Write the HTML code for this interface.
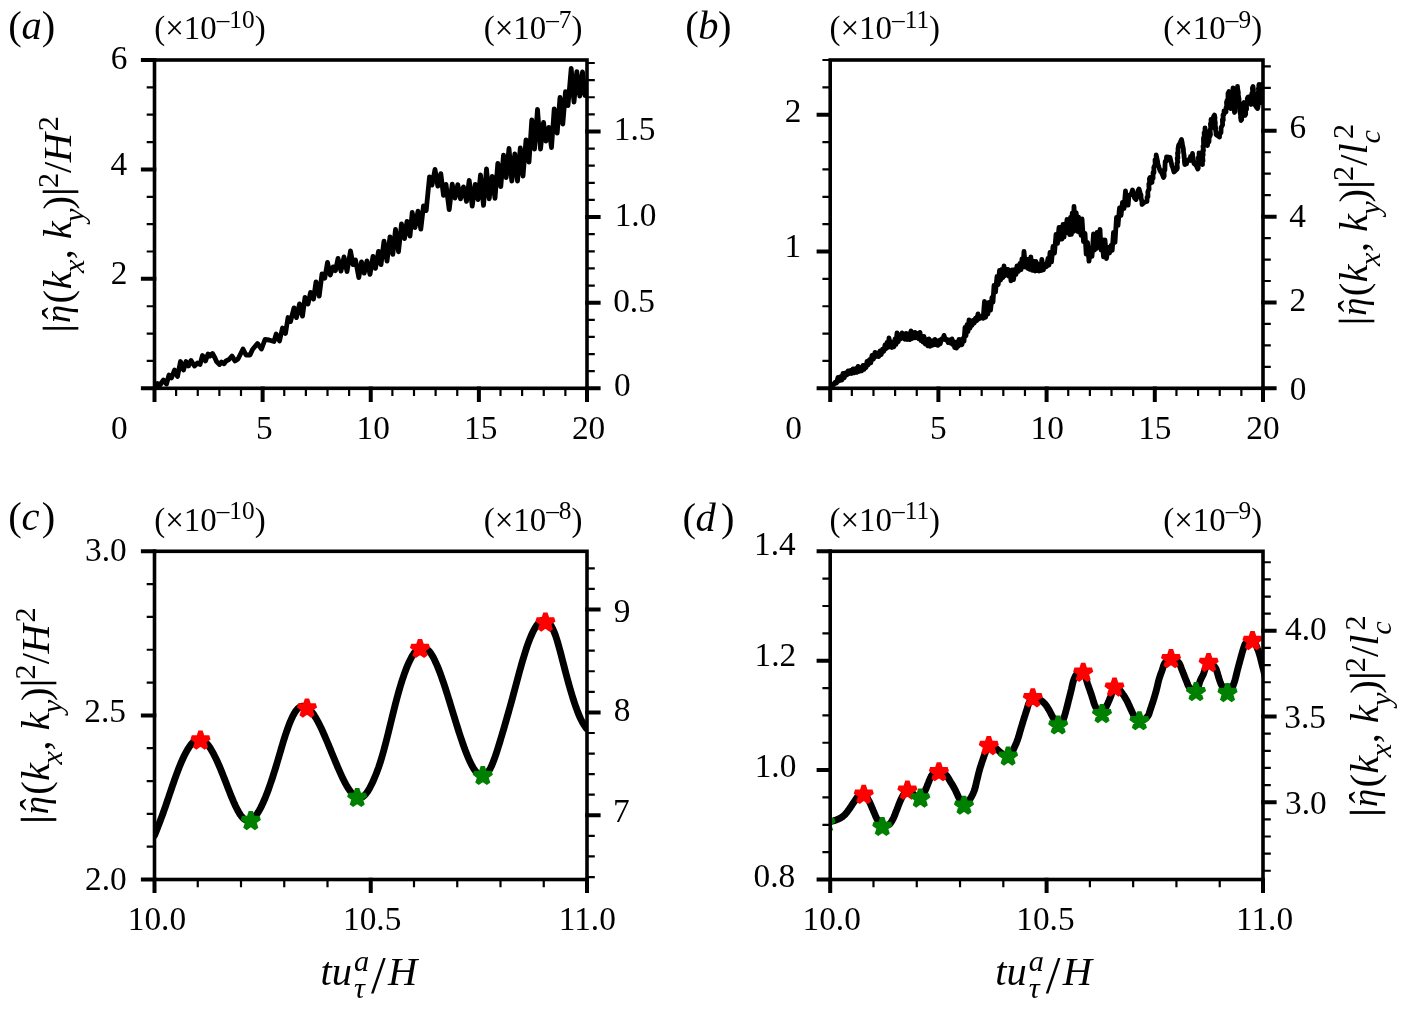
<!DOCTYPE html>
<html lang="en">
<head>
<meta charset="utf-8">
<title>Figure</title>
<style>
html,body{margin:0;padding:0;background:#fff;}
body{width:1402px;height:1009px;overflow:hidden;}
svg{display:block;}
text{font-family:"Liberation Serif", "DejaVu Serif", serif;fill:#000;}
.t{font-size:34.2px;}
.i{font-style:italic;}
</style>
</head>
<body>
<svg width="1402" height="1009" viewBox="0 0 1402 1009">
<rect width="1402" height="1009" fill="#fff"/>
<defs>
<clipPath id="cla"><rect x="154.50" y="60.00" width="432.50" height="328.30"/></clipPath>
<clipPath id="clb"><rect x="830.20" y="60.00" width="432.80" height="328.30"/></clipPath>
<clipPath id="clc"><rect x="154.50" y="551.30" width="432.50" height="328.20"/></clipPath>
<clipPath id="cld"><rect x="830.20" y="551.30" width="432.80" height="328.20"/></clipPath>
</defs>
<path d="M154.5 387.0L157.5 383.5L160.0 385.0L163.5 380.0L166.5 384.0L169.0 375.0L171.5 378.0L174.5 370.0L177.5 376.5L180.5 361.5L183.5 370.0L186.0 361.5L188.5 366.0L191.0 360.5L194.5 366.0L197.5 363.0L200.0 364.5L202.5 355.5L205.5 361.0L208.0 354.0L210.0 356.0L212.5 353.5L215.0 358.0L216.5 361.5L219.5 364.5L221.5 362.0L224.0 363.8L226.0 361.0L229.0 359.5L232.0 356.0L235.0 361.0L238.0 359.0L240.0 355.0L243.0 349.0L246.0 355.0L250.0 355.0L252.5 349.5L257.5 343.5L261.5 349.0L265.0 339.5L269.0 340.0L274.0 341.5L276.2 334.0L279.5 341.0L282.5 328.0L285.5 333.5L288.0 317.5L290.5 321.6L294.0 307.9L296.5 317.6L299.5 303.9L302.5 316.1L305.0 297.4L308.0 304.1L310.5 292.4L313.5 299.1L316.0 281.9L319.2 296.1L322.0 273.9L324.8 278.1L327.5 262.4L330.3 275.1L333.0 266.9L335.5 270.6L338.0 258.4L341.0 271.1L344.0 256.9L347.0 271.6L350.5 250.9L353.0 264.6L355.5 259.9L358.8 277.6L361.5 261.9L364.2 273.1L367.0 260.9L370.0 274.4L373.0 256.4L375.5 268.4L378.5 251.4L381.0 264.6L384.0 241.1L387.0 261.1L390.0 236.9L392.8 254.4L395.5 229.4L398.5 251.8L401.5 223.9L404.5 238.6L407.0 221.4L410.0 236.1L412.2 212.4L415.0 227.6L418.0 211.2L420.8 229.1L423.5 205.9L426.2 210.6L429.5 176.9L432.0 185.1L435.0 169.4L437.8 186.1L440.8 173.6L443.5 195.4L446.0 184.4L449.2 209.6L452.2 184.2L455.0 198.1L457.8 184.6L460.5 198.8L463.5 186.9L466.5 201.4L469.2 180.4L472.2 206.1L475.2 184.4L478.0 199.6L480.5 174.9L483.5 205.4L486.5 168.9L489.2 198.8L492.2 176.4L495.0 198.4L497.8 163.4L500.8 186.6L503.5 155.1L506.2 177.6L509.0 148.4L511.8 181.1L514.8 153.9L517.5 181.1L520.3 147.9L523.0 176.1L526.0 139.9L529.0 162.1L531.8 119.9L534.5 149.1L537.5 109.4L540.5 149.1L543.5 122.4L546.0 141.1L548.8 127.4L551.5 147.6L554.2 108.9L557.2 133.1L560.0 97.4L562.8 124.1L565.5 91.6L568.0 105.6L571.2 68.4L574.0 102.1L576.8 71.6L579.8 96.1L582.5 71.9L585.0 95.6L587.0 85.0" fill="none" stroke="#000" stroke-width="4.8" stroke-linejoin="round" stroke-linecap="round" clip-path="url(#cla)"/>
<path d="M830.2 387.5L830.0 385.2L831.2 385.0L832.5 384.1L833.8 384.6L835.0 382.4L836.5 383.1L838.0 377.4L839.2 380.9L840.5 376.6L841.8 380.1L843.0 373.4L844.2 377.9L845.5 372.9L846.8 375.0L848.0 370.9L849.2 373.6L850.5 370.5L851.8 373.4L853.0 368.9L854.2 372.9L855.5 368.6L856.8 372.4L858.0 366.4L859.2 371.4L860.5 367.8L861.8 370.7L863.0 365.4L864.0 369.4L865.0 365.2L866.0 367.6L867.0 361.4L868.2 364.9L869.5 359.6L870.8 362.8L872.0 355.4L873.5 359.0L875.0 352.4L876.2 356.5L877.5 353.2L878.8 356.5L880.0 350.9L881.2 354.6L882.5 349.3L883.8 351.2L885.0 344.9L886.0 348.6L887.0 342.4L888.0 347.3L889.0 337.9L890.0 346.9L891.0 341.6L892.0 347.5L893.0 341.9L894.0 346.8L895.0 339.0L896.0 344.5L897.0 332.9L898.2 341.9L899.5 334.8L900.8 338.7L902.0 332.9L903.0 338.1L904.0 334.7L905.0 339.2L906.0 333.4L907.2 339.5L908.5 333.9L909.8 339.6L911.0 330.9L912.0 338.6L913.0 332.7L914.0 337.9L915.0 332.4L916.2 337.7L917.5 333.5L918.8 338.8L920.0 332.4L921.0 340.6L922.0 336.1L923.0 342.2L924.0 336.4L925.2 344.0L926.5 339.6L927.8 345.7L929.0 338.9L930.0 346.3L931.0 340.8L932.0 345.4L933.0 340.7L934.0 344.7L935.0 339.4L936.0 344.5L937.0 341.2L938.0 345.4L939.0 340.4L940.2 343.9L941.5 339.0L942.8 339.5L944.0 335.4L945.5 339.8L947.0 339.4L948.2 342.6L949.5 340.0L950.8 343.2L952.0 338.9L952.9 344.7L953.8 341.5L954.6 347.5L955.5 342.4L956.4 348.1L957.2 341.9L958.1 346.4L959.0 339.4L960.0 344.9L961.0 340.0L962.0 344.7L963.0 338.4L964.0 341.3L965.0 327.4L966.0 335.9L967.0 324.6L968.0 331.6L969.0 319.9L970.0 328.1L971.0 322.1L972.0 325.4L973.0 320.4L974.2 323.0L975.5 318.2L976.8 320.7L978.0 313.9L979.0 319.0L980.0 316.3L981.0 317.9L982.0 316.4L983.2 318.2L984.5 301.4L985.6 317.4L986.8 303.1L987.9 314.1L989.0 302.4L990.5 310.2L992.0 297.4L993.0 302.2L994.0 285.4L995.5 291.9L997.0 276.4L998.2 284.6L999.5 270.4L1000.6 280.1L1001.8 269.5L1002.9 277.5L1004.0 265.9L1005.0 275.6L1006.0 269.4L1007.0 274.8L1008.0 269.4L1009.0 276.4L1010.0 271.4L1011.0 280.9L1012.0 269.9L1013.5 279.7L1015.0 269.4L1016.0 274.5L1017.0 265.9L1018.5 271.4L1020.0 263.4L1021.0 269.7L1022.0 258.8L1023.0 266.9L1024.0 251.4L1025.5 267.0L1027.0 259.4L1028.0 268.5L1028.9 259.1L1029.8 269.3L1030.8 256.9L1032.4 270.4L1034.0 261.4L1035.0 271.0L1036.0 261.4L1037.0 270.5L1038.0 263.9L1039.0 271.0L1040.0 264.4L1040.9 270.7L1041.8 259.4L1043.4 269.8L1045.0 264.4L1046.5 266.6L1048.0 258.4L1049.0 265.1L1050.0 252.4L1051.5 261.9L1053.0 246.4L1054.5 253.1L1056.0 234.4L1057.5 243.5L1059.0 227.4L1060.0 239.3L1061.0 227.2L1062.0 239.0L1063.0 224.4L1064.0 237.2L1065.0 223.8L1066.0 232.9L1067.0 219.4L1067.9 232.4L1068.8 219.9L1069.6 234.6L1070.5 217.4L1071.4 234.3L1072.2 213.2L1073.1 231.7L1074.0 206.4L1075.1 230.4L1076.2 212.7L1077.4 231.3L1078.5 216.9L1079.4 232.3L1080.2 219.4L1081.1 235.3L1082.0 218.9L1083.5 241.7L1085.0 233.4L1086.2 254.1L1087.5 242.4L1089.0 261.2L1090.5 248.4L1092.0 256.4L1093.5 233.9L1094.4 250.1L1095.2 234.9L1096.1 248.5L1097.0 232.4L1098.5 247.3L1100.0 229.4L1101.0 250.0L1102.0 239.4L1103.5 256.8L1105.0 239.9L1106.5 258.5L1108.0 247.4L1109.5 253.0L1111.0 245.4L1112.2 250.4L1113.5 232.4L1115.0 242.4L1116.5 217.4L1118.0 225.5L1119.5 207.9L1121.0 215.4L1122.5 202.4L1124.0 208.5L1125.5 190.9L1126.4 203.2L1127.2 195.0L1128.1 205.2L1129.0 195.4L1130.0 195.0L1131.5 193.4L1132.5 190.0L1132.9 191.5L1134.1 196.4L1134.5 198.0L1136.0 199.5L1137.5 195.0L1138.0 190.7L1139.0 189.0L1140.3 193.3L1141.0 195.0L1141.0 197.4L1142.0 202.0L1142.0 204.5L1145.0 202.0L1147.0 201.5L1147.1 197.1L1148.0 196.7L1147.8 192.0L1148.5 190.0L1149.1 189.2L1148.8 183.9L1149.7 184.0L1149.4 178.9L1150.0 177.5L1151.3 181.3L1152.0 182.5L1152.1 178.9L1153.1 178.3L1153.0 172.7L1154.0 172.7L1153.8 167.3L1154.5 166.0L1155.2 164.6L1155.0 159.8L1156.1 159.2L1156.2 155.0L1156.5 156.5L1157.6 161.5L1157.6 162.6L1158.5 166.0L1160.0 170.6L1161.0 172.0L1162.0 173.6L1163.5 177.5L1164.2 176.0L1164.0 170.2L1164.9 170.3L1165.0 166.0L1165.2 161.4L1166.3 161.1L1166.5 157.0L1170.0 157.5L1170.4 158.9L1171.6 164.3L1172.0 166.0L1172.7 167.4L1174.0 172.0L1177.0 169.0L1177.4 168.1L1177.0 163.2L1177.7 162.3L1177.2 158.1L1177.9 158.2L1177.5 152.9L1178.2 152.8L1178.0 149.0L1178.7 145.0L1180.0 143.0L1181.5 139.5L1182.3 143.3L1182.2 143.7L1183.3 148.4L1183.5 150.0L1183.4 151.2L1184.2 156.1L1183.9 155.7L1184.7 161.0L1184.3 160.5L1184.8 164.5L1186.5 163.8L1187.5 160.0L1190.0 160.5L1190.5 156.5L1192.0 157.2L1192.5 153.5L1192.6 155.2L1193.5 160.0L1193.3 159.3L1194.0 163.5L1196.0 165.0L1197.8 169.0L1198.3 167.9L1197.9 162.4L1198.7 162.4L1198.3 157.5L1199.1 157.2L1199.0 153.0L1199.4 154.1L1200.6 158.6L1201.0 160.0L1202.5 164.5L1202.3 161.3L1203.0 161.0L1202.5 155.3L1203.2 155.2L1202.8 150.5L1203.5 150.6L1203.0 146.2L1203.7 145.5L1203.5 142.0L1203.5 137.8L1204.4 138.0L1204.1 132.9L1205.0 132.1L1205.0 128.0L1205.1 129.8L1206.0 134.4L1205.8 134.5L1206.7 139.6L1206.5 138.8L1207.4 144.2L1207.5 145.5L1207.8 141.4L1209.0 141.7L1209.1 137.6L1210.0 136.0L1210.5 134.5L1210.0 129.8L1210.8 128.6L1210.4 123.9L1211.1 123.5L1211.0 119.5L1213.0 120.0L1213.5 116.7L1214.5 115.0L1215.0 118.1L1214.6 118.3L1215.4 123.3L1215.0 123.1L1215.7 128.8L1215.3 128.6L1216.1 133.2L1216.0 134.5L1219.5 137.0L1219.8 133.1L1221.0 132.8L1221.1 127.5L1222.0 126.0L1222.6 124.7L1222.4 119.7L1223.3 120.1L1223.0 114.8L1224.0 114.6L1224.0 111.0L1226.0 112.0L1226.0 107.7L1226.8 107.1L1226.5 102.4L1227.0 100.5L1228.0 99.2L1228.0 93.3L1229.0 91.5L1229.5 95.1L1229.1 95.7L1229.9 99.9L1229.6 100.0L1230.4 104.3L1230.0 104.8L1230.5 108.5L1231.1 107.2L1230.8 102.7L1231.7 102.1L1231.5 97.1L1232.4 97.0L1232.1 92.1L1233.0 91.9L1233.0 88.0L1232.9 89.0L1233.6 93.6L1233.2 94.6L1233.9 99.2L1233.5 98.6L1234.2 103.6L1233.8 104.0L1234.5 108.9L1234.0 109.1L1234.5 112.5L1235.1 110.9L1234.8 106.3L1235.7 105.7L1235.4 100.8L1236.3 100.5L1236.0 95.9L1236.9 95.8L1236.6 91.0L1237.5 90.3L1237.5 86.5L1237.5 87.8L1238.4 92.9L1238.1 93.7L1239.0 98.8L1239.0 100.0L1239.0 101.7L1239.8 106.0L1239.5 106.6L1240.3 111.6L1240.0 112.1L1240.8 116.4L1240.5 116.9L1241.0 120.5L1241.7 119.4L1241.6 114.3L1242.6 114.3L1242.4 109.4L1243.4 108.6L1243.3 103.7L1244.0 102.5L1244.5 106.7L1244.1 106.6L1244.9 111.2L1244.5 112.1L1245.0 115.5L1245.7 114.1L1245.6 109.4L1246.6 109.1L1246.4 103.4L1247.4 103.1L1247.3 98.7L1248.0 97.0L1250.0 96.5L1250.6 100.7L1250.4 100.5L1251.0 104.5L1251.6 103.4L1251.3 98.3L1252.2 97.6L1251.8 93.3L1252.7 93.1L1252.4 88.1L1253.0 86.5L1253.5 90.0L1253.1 90.4L1253.9 95.1L1253.6 95.4L1254.4 100.6L1254.0 100.7L1254.5 104.0L1256.0 106.5L1257.5 108.5L1258.0 106.8L1257.5 102.1L1258.2 102.9L1257.8 97.2L1258.5 97.6L1258.1 92.5L1258.8 93.3L1258.4 88.4L1259.1 88.3L1259.0 84.5L1258.8 85.6L1259.6 91.1L1259.1 91.2L1259.9 96.0L1259.4 96.7L1260.2 101.2L1260.0 103.0L1259.9 99.6L1260.7 99.0L1260.3 94.1L1261.2 93.9L1260.8 89.1L1261.6 88.7L1261.5 84.5L1262.0 85.9L1263.0 90.0L1263.7 94.0L1263.5 93.2L1264.5 98.8L1264.3 98.3L1265.0 102.0" fill="none" stroke="#000" stroke-width="4.8" stroke-linejoin="round" stroke-linecap="round" clip-path="url(#clb)"/>
<path d="M154.5 835.5L155.5 833.0L156.5 830.4L157.5 827.9L158.5 825.3L159.5 822.7L160.5 820.1L161.5 817.4L162.5 814.7L163.5 812.0L164.5 809.1L165.5 806.3L166.5 803.4L167.5 800.4L168.5 797.5L169.5 794.5L170.5 791.6L171.5 788.6L172.5 785.7L173.5 782.8L174.5 779.9L175.5 777.1L176.5 774.4L177.5 771.7L178.5 769.1L179.5 766.5L180.5 764.1L181.5 761.7L182.5 759.5L183.5 757.3L184.5 755.2L185.5 753.3L186.5 751.4L187.5 749.7L188.5 748.1L189.5 746.6L190.5 745.2L191.5 743.9L192.5 742.8L193.5 741.9L194.5 741.0L195.5 740.4L196.5 739.8L197.5 739.4L198.5 739.2L199.5 739.2L200.5 739.3L201.5 739.5L202.5 740.0L203.5 740.6L204.5 741.3L205.5 742.2L206.5 743.2L207.5 744.3L208.5 745.6L209.5 747.0L210.5 748.5L211.5 750.2L212.5 751.9L213.5 753.7L214.5 755.7L215.5 757.7L216.5 759.8L217.5 762.0L218.5 764.2L219.5 766.5L220.5 768.9L221.5 771.4L222.5 773.8L223.5 776.4L224.5 778.9L225.5 781.5L226.5 784.1L227.5 786.7L228.5 789.3L229.5 791.8L230.5 794.4L231.5 796.8L232.5 799.2L233.5 801.6L234.5 803.8L235.5 806.0L236.5 808.0L237.5 810.0L238.5 811.8L239.5 813.5L240.5 815.0L241.5 816.3L242.5 817.5L243.5 818.5L244.5 819.3L245.5 819.9L246.5 820.3L247.5 820.5L248.5 820.5L249.5 820.4L250.5 820.1L251.5 819.6L252.5 818.9L253.5 818.1L254.5 817.1L255.5 815.9L256.5 814.6L257.5 813.2L258.5 811.6L259.5 809.9L260.5 808.1L261.5 806.1L262.5 804.0L263.5 801.8L264.5 799.5L265.5 797.1L266.5 794.5L267.5 791.9L268.5 789.2L269.5 786.4L270.5 783.5L271.5 780.6L272.5 777.6L273.5 774.4L274.5 771.3L275.5 768.1L276.5 764.8L277.5 761.4L278.5 758.0L279.5 754.6L280.5 751.2L281.5 747.8L282.5 744.4L283.5 741.1L284.5 737.9L285.5 734.8L286.5 731.8L287.5 729.0L288.5 726.2L289.5 723.6L290.5 721.1L291.5 718.9L292.5 716.7L293.5 714.8L294.5 713.0L295.5 711.4L296.5 710.1L297.5 708.9L298.5 708.0L299.5 707.3L300.5 706.7L301.5 706.3L302.5 706.1L303.5 706.1L304.5 706.3L305.5 706.6L306.5 707.1L307.5 707.7L308.5 708.5L309.5 709.4L310.5 710.4L311.5 711.6L312.5 712.9L313.5 714.2L314.5 715.8L315.5 717.4L316.5 719.1L317.5 720.9L318.5 722.7L319.5 724.7L320.5 726.7L321.5 728.8L322.5 731.0L323.5 733.2L324.5 735.5L325.5 737.8L326.5 740.1L327.5 742.5L328.5 744.9L329.5 747.3L330.5 749.7L331.5 752.2L332.5 754.6L333.5 757.0L334.5 759.4L335.5 761.8L336.5 764.2L337.5 766.6L338.5 768.9L339.5 771.2L340.5 773.4L341.5 775.6L342.5 777.7L343.5 779.7L344.5 781.7L345.5 783.6L346.5 785.4L347.5 787.1L348.5 788.7L349.5 790.2L350.5 791.5L351.5 792.8L352.5 793.9L353.5 794.9L354.5 795.8L355.5 796.5L356.5 797.1L357.5 797.5L358.5 797.7L359.5 797.8L360.5 797.7L361.5 797.4L362.5 796.9L363.5 796.2L364.5 795.4L365.5 794.3L366.5 793.1L367.5 791.7L368.5 790.1L369.5 788.4L370.5 786.5L371.5 784.5L372.5 782.4L373.5 780.2L374.5 777.9L375.5 775.5L376.5 773.0L377.5 770.3L378.5 767.6L379.5 764.7L380.5 761.6L381.5 758.3L382.5 754.9L383.5 751.4L384.5 747.7L385.5 743.9L386.5 740.0L387.5 736.0L388.5 732.0L389.5 727.9L390.5 723.8L391.5 719.7L392.5 715.6L393.5 711.6L394.5 707.6L395.5 703.7L396.5 699.8L397.5 696.1L398.5 692.5L399.5 689.0L400.5 685.6L401.5 682.4L402.5 679.3L403.5 676.3L404.5 673.4L405.5 670.7L406.5 668.1L407.5 665.6L408.5 663.3L409.5 661.2L410.5 659.2L411.5 657.3L412.5 655.6L413.5 654.0L414.5 652.6L415.5 651.4L416.5 650.3L417.5 649.4L418.5 648.7L419.5 648.1L420.5 647.7L421.5 647.4L422.5 647.4L423.5 647.5L424.5 647.7L425.5 648.2L426.5 648.8L427.5 649.6L428.5 650.5L429.5 651.6L430.5 652.9L431.5 654.4L432.5 656.1L433.5 657.8L434.5 659.8L435.5 661.9L436.5 664.1L437.5 666.4L438.5 668.9L439.5 671.5L440.5 674.1L441.5 676.9L442.5 679.8L443.5 682.7L444.5 685.7L445.5 688.7L446.5 691.9L447.5 695.0L448.5 698.2L449.5 701.4L450.5 704.7L451.5 708.0L452.5 711.2L453.5 714.5L454.5 717.8L455.5 721.0L456.5 724.2L457.5 727.4L458.5 730.6L459.5 733.7L460.5 736.8L461.5 739.7L462.5 742.7L463.5 745.5L464.5 748.3L465.5 750.9L466.5 753.5L467.5 756.0L468.5 758.4L469.5 760.6L470.5 762.7L471.5 764.7L472.5 766.6L473.5 768.3L474.5 769.8L475.5 771.2L476.5 772.4L477.5 773.5L478.5 774.4L479.5 775.0L480.5 775.5L481.5 775.8L482.5 775.9L483.5 775.7L484.5 775.4L485.5 774.8L486.5 773.9L487.5 772.9L488.5 771.5L489.5 769.9L490.5 768.1L491.5 766.0L492.5 763.7L493.5 761.1L494.5 758.5L495.5 755.6L496.5 752.6L497.5 749.5L498.5 746.3L499.5 743.1L500.5 739.8L501.5 736.4L502.5 733.1L503.5 729.7L504.5 726.3L505.5 722.8L506.5 719.3L507.5 715.8L508.5 712.3L509.5 708.7L510.5 705.1L511.5 701.5L512.5 697.8L513.5 694.0L514.5 690.3L515.5 686.6L516.5 682.8L517.5 679.1L518.5 675.4L519.5 671.7L520.5 668.1L521.5 664.5L522.5 661.0L523.5 657.7L524.5 654.4L525.5 651.2L526.5 648.1L527.5 645.2L528.5 642.4L529.5 639.8L530.5 637.3L531.5 635.0L532.5 632.8L533.5 630.8L534.5 628.9L535.5 627.2L536.5 625.7L537.5 624.4L538.5 623.2L539.5 622.2L540.5 621.4L541.5 620.7L542.5 620.3L543.5 620.1L544.5 620.1L545.5 620.3L546.5 620.7L547.5 621.4L548.5 622.3L549.5 623.4L550.5 624.8L551.5 626.4L552.5 628.3L553.5 630.4L554.5 632.8L555.5 635.5L556.5 638.5L557.5 641.7L558.5 645.2L559.5 648.8L560.5 652.5L561.5 656.4L562.5 660.3L563.5 664.2L564.5 668.0L565.5 671.9L566.5 675.6L567.5 679.3L568.5 683.0L569.5 686.6L570.5 690.0L571.5 693.4L572.5 696.7L573.5 699.9L574.5 703.0L575.5 705.9L576.5 708.7L577.5 711.4L578.5 713.9L579.5 716.3L580.5 718.5L581.5 720.5L582.5 722.4L583.5 724.1L584.5 725.7L585.5 727.2L586.5 728.6" fill="none" stroke="#000" stroke-width="6.9" stroke-linejoin="round" stroke-linecap="round" clip-path="url(#clc)"/>
<path d="M200.50 731.20L202.57 737.56L209.25 737.56L203.84 741.49L205.91 747.84L200.50 743.91L195.09 747.84L197.16 741.49L191.75 737.56L198.43 737.56Z" fill="#ff0000" stroke="#ff0000" stroke-width="4.5" stroke-linejoin="bevel" clip-path="url(#clc)"/>
<path d="M307.00 699.20L309.07 705.56L315.75 705.56L310.34 709.49L312.41 715.84L307.00 711.91L301.59 715.84L303.66 709.49L298.25 705.56L304.93 705.56Z" fill="#ff0000" stroke="#ff0000" stroke-width="4.5" stroke-linejoin="bevel" clip-path="url(#clc)"/>
<path d="M420.00 639.60L422.07 645.96L428.75 645.96L423.34 649.89L425.41 656.24L420.00 652.31L414.59 656.24L416.66 649.89L411.25 645.96L417.93 645.96Z" fill="#ff0000" stroke="#ff0000" stroke-width="4.5" stroke-linejoin="bevel" clip-path="url(#clc)"/>
<path d="M545.40 613.20L547.47 619.56L554.15 619.56L548.74 623.49L550.81 629.84L545.40 625.91L539.99 629.84L542.06 623.49L536.65 619.56L543.33 619.56Z" fill="#ff0000" stroke="#ff0000" stroke-width="4.5" stroke-linejoin="bevel" clip-path="url(#clc)"/>
<path d="M250.80 811.70L252.87 818.06L259.55 818.06L254.14 821.99L256.21 828.34L250.80 824.41L245.39 828.34L247.46 821.99L242.05 818.06L248.73 818.06Z" fill="#008000" stroke="#008000" stroke-width="4.5" stroke-linejoin="bevel" clip-path="url(#clc)"/>
<path d="M357.20 788.60L359.27 794.96L365.95 794.96L360.54 798.89L362.61 805.24L357.20 801.31L351.79 805.24L353.86 798.89L348.45 794.96L355.13 794.96Z" fill="#008000" stroke="#008000" stroke-width="4.5" stroke-linejoin="bevel" clip-path="url(#clc)"/>
<path d="M482.80 766.60L484.87 772.96L491.55 772.96L486.14 776.89L488.21 783.24L482.80 779.31L477.39 783.24L479.46 776.89L474.05 772.96L480.73 772.96Z" fill="#008000" stroke="#008000" stroke-width="4.5" stroke-linejoin="bevel" clip-path="url(#clc)"/>
<path d="M821.0 823.3L821.5 823.3L822.0 823.2L822.5 823.1L823.0 823.0L823.5 822.9L824.0 822.9L824.5 822.8L825.0 822.7L825.5 822.6L826.0 822.5L826.5 822.4L827.0 822.3L827.5 822.2L828.0 822.1L828.5 822.1L829.0 822.0L829.5 821.9L830.0 821.7L830.5 821.6L831.0 821.5L831.5 821.4L832.0 821.2L832.5 821.1L833.0 820.9L833.5 820.8L834.0 820.6L834.5 820.5L835.0 820.3L835.5 820.1L836.0 820.0L836.5 819.8L837.0 819.6L837.5 819.4L838.0 819.2L838.5 819.0L839.0 818.8L839.5 818.6L840.0 818.3L840.5 818.0L841.0 817.7L841.5 817.4L842.0 817.0L842.5 816.7L843.0 816.3L843.5 815.9L844.0 815.4L844.5 815.0L845.0 814.5L845.5 814.0L846.0 813.4L846.5 812.8L847.0 812.2L847.5 811.5L848.0 810.8L848.5 810.1L849.0 809.4L849.5 808.7L850.0 808.0L850.5 807.3L851.0 806.5L851.5 805.8L852.0 805.0L852.5 804.2L853.0 803.4L853.5 802.7L854.0 801.9L854.5 801.2L855.0 800.5L855.5 799.8L856.0 799.1L856.5 798.3L857.0 797.6L857.5 796.9L858.0 796.3L858.5 795.9L859.0 795.5L859.5 795.2L860.0 795.0L860.5 794.7L861.0 794.5L861.5 794.3L862.0 794.1L862.5 794.0L863.0 793.9L863.5 793.8L864.0 793.8L864.5 794.0L865.0 794.4L865.5 795.0L866.0 795.7L866.5 796.5L867.0 797.3L867.5 798.3L868.0 799.2L868.5 800.1L869.0 801.0L869.5 801.9L870.0 803.0L870.5 804.1L871.0 805.2L871.5 806.4L872.0 807.7L872.5 808.8L873.0 810.0L873.5 811.2L874.0 812.3L874.5 813.5L875.0 814.7L875.5 815.9L876.0 817.0L876.5 818.1L877.0 819.0L877.5 819.9L878.0 820.9L878.5 821.8L879.0 822.8L879.5 823.7L880.0 824.5L880.5 825.2L881.0 825.8L881.5 826.2L882.0 826.5L882.5 826.5L883.0 826.5L883.5 826.4L884.0 826.3L884.5 826.2L885.0 826.1L885.5 826.0L886.0 825.8L886.5 825.6L887.0 825.4L887.5 825.2L888.0 825.0L888.5 824.8L889.0 824.5L889.5 824.2L890.0 823.7L890.5 823.1L891.0 822.4L891.5 821.6L892.0 820.8L892.5 819.9L893.0 819.0L893.5 818.0L894.0 816.9L894.5 815.7L895.0 814.4L895.5 813.1L896.0 811.8L896.5 810.5L897.0 809.3L897.5 808.0L898.0 806.7L898.5 805.3L899.0 804.0L899.5 802.8L900.0 801.6L900.5 800.4L901.0 799.4L901.5 798.3L902.0 797.3L902.5 796.4L903.0 795.5L903.5 794.7L904.0 794.0L904.5 793.4L905.0 792.7L905.5 792.1L906.0 791.6L906.5 791.1L907.0 790.9L907.5 790.8L908.0 790.9L908.5 791.0L909.0 791.2L909.5 791.4L910.0 791.7L910.5 792.0L911.0 792.4L911.5 792.7L912.0 793.0L912.5 793.4L913.0 793.8L913.5 794.3L914.0 794.8L914.5 795.3L915.0 795.7L915.5 796.2L916.0 796.5L916.5 796.8L917.0 797.1L917.5 797.4L918.0 797.7L918.5 798.0L919.0 798.2L919.5 798.4L920.0 798.5L920.5 798.5L921.0 798.2L921.5 797.7L922.0 797.0L922.5 796.2L923.0 795.2L923.5 794.2L924.0 793.1L924.5 792.0L925.0 791.0L925.5 789.9L926.0 788.8L926.5 787.5L927.0 786.3L927.5 785.0L928.0 783.7L928.5 782.5L929.0 781.2L929.5 780.0L930.0 778.9L930.5 777.7L931.0 776.7L931.5 775.8L932.0 775.1L932.5 774.5L933.0 774.0L933.5 773.5L934.0 773.1L934.5 772.8L935.0 772.6L935.5 772.3L936.0 772.1L936.5 772.0L937.0 771.8L937.5 771.7L938.0 771.6L938.5 771.5L939.0 771.5L939.5 771.5L940.0 771.6L940.5 771.7L941.0 771.9L941.5 772.1L942.0 772.3L942.5 772.6L943.0 772.9L943.5 773.2L944.0 773.5L944.5 773.9L945.0 774.2L945.5 774.6L946.0 775.0L946.5 775.5L947.0 776.1L947.5 776.8L948.0 777.6L948.5 778.4L949.0 779.3L949.5 780.2L950.0 781.0L950.5 781.8L951.0 782.6L951.5 783.4L952.0 784.2L952.5 785.1L953.0 785.9L953.5 786.8L954.0 787.7L954.5 788.6L955.0 789.5L955.5 790.5L956.0 791.6L956.5 792.7L957.0 793.8L957.5 794.9L958.0 796.0L958.5 797.1L959.0 798.0L959.5 798.9L960.0 799.9L960.5 800.9L961.0 801.9L961.5 802.9L962.0 803.7L962.5 804.4L963.0 805.0L963.5 805.4L964.0 805.5L964.5 805.4L965.0 805.2L965.5 804.8L966.0 804.4L966.5 803.8L967.0 803.2L967.5 802.5L968.0 801.9L968.5 801.2L969.0 800.5L969.5 799.8L970.0 799.1L970.5 798.4L971.0 797.5L971.5 796.7L972.0 795.7L972.5 794.7L973.0 793.7L973.5 792.5L974.0 791.3L974.5 790.0L975.0 788.4L975.5 786.5L976.0 784.3L976.5 782.1L977.0 780.0L977.5 778.0L978.0 775.9L978.5 773.8L979.0 771.8L979.5 770.0L980.0 768.3L980.5 766.6L981.0 765.1L981.5 763.5L982.0 762.0L982.5 760.6L983.0 759.1L983.5 757.6L984.0 756.2L984.5 754.8L985.0 753.4L985.5 752.1L986.0 751.0L986.5 749.9L987.0 748.7L987.5 747.5L988.0 746.6L988.5 746.1L989.0 746.0L989.5 746.0L990.0 746.1L990.5 746.2L991.0 746.3L991.5 746.5L992.0 746.6L992.5 746.8L993.0 747.0L993.5 747.3L994.0 747.5L994.5 747.7L995.0 748.0L995.5 748.2L996.0 748.5L996.5 748.8L997.0 749.2L997.5 749.6L998.0 750.1L998.5 750.6L999.0 751.1L999.5 751.6L1000.0 752.0L1000.5 752.4L1001.0 752.8L1001.5 753.2L1002.0 753.7L1002.5 754.0L1003.0 754.4L1003.5 754.7L1004.0 755.0L1004.5 755.3L1005.0 755.5L1005.5 755.8L1006.0 756.0L1006.5 756.2L1007.0 756.3L1007.5 756.4L1008.0 756.5L1008.5 756.4L1009.0 756.1L1009.5 755.7L1010.0 755.0L1010.5 754.3L1011.0 753.6L1011.5 752.8L1012.0 752.0L1012.5 751.2L1013.0 750.3L1013.5 749.3L1014.0 748.2L1014.5 747.1L1015.0 746.0L1015.5 744.9L1016.0 743.8L1016.5 742.6L1017.0 741.3L1017.5 740.0L1018.0 738.5L1018.5 736.9L1019.0 735.2L1019.5 733.5L1020.0 731.7L1020.5 730.0L1021.0 728.3L1021.5 726.6L1022.0 725.0L1022.5 723.3L1023.0 721.6L1023.5 720.0L1024.0 718.4L1024.5 716.8L1025.0 715.3L1025.5 713.7L1026.0 712.2L1026.5 710.6L1027.0 709.0L1027.5 707.4L1028.0 705.7L1028.5 704.2L1029.0 703.0L1029.5 702.0L1030.0 701.0L1030.5 700.0L1031.0 699.2L1031.5 698.5L1032.0 698.0L1032.5 697.7L1033.0 697.6L1033.5 697.6L1034.0 697.7L1034.5 697.8L1035.0 697.9L1035.5 698.0L1036.0 698.2L1036.5 698.4L1037.0 698.5L1037.5 698.8L1038.0 699.0L1038.5 699.2L1039.0 699.5L1039.5 699.7L1040.0 700.0L1040.5 700.2L1041.0 700.5L1041.5 700.8L1042.0 701.1L1042.5 701.5L1043.0 702.0L1043.5 702.4L1044.0 702.9L1044.5 703.5L1045.0 704.0L1045.5 704.6L1046.0 705.2L1046.5 706.0L1047.0 706.7L1047.5 707.5L1048.0 708.3L1048.5 709.2L1049.0 710.0L1049.5 710.9L1050.0 711.8L1050.5 712.8L1051.0 713.8L1051.5 714.7L1052.0 715.7L1052.5 716.6L1053.0 717.5L1053.5 718.4L1054.0 719.3L1054.5 720.3L1055.0 721.3L1055.5 722.2L1056.0 723.1L1056.5 723.9L1057.0 724.5L1057.5 725.0L1058.0 725.2L1058.5 725.2L1059.0 725.0L1059.5 724.7L1060.0 724.3L1060.5 723.7L1061.0 723.1L1061.5 722.4L1062.0 721.6L1062.5 720.8L1063.0 720.0L1063.5 719.0L1064.0 717.7L1064.5 716.1L1065.0 714.3L1065.5 712.5L1066.0 710.7L1066.5 708.9L1067.0 707.0L1067.5 704.9L1068.0 702.9L1068.5 700.8L1069.0 698.8L1069.5 696.8L1070.0 694.8L1070.5 692.8L1071.0 690.8L1071.5 688.8L1072.0 686.5L1072.5 684.3L1073.0 682.3L1073.5 680.6L1074.0 679.2L1074.5 678.0L1075.0 676.9L1075.5 675.9L1076.0 675.1L1076.5 674.4L1077.0 674.0L1077.5 673.7L1078.0 673.4L1078.5 673.2L1079.0 673.0L1079.5 672.8L1080.0 672.6L1080.5 672.4L1081.0 672.3L1081.5 672.2L1082.0 672.1L1082.5 672.0L1083.0 672.0L1083.5 672.1L1084.0 672.7L1084.5 673.6L1085.0 674.9L1085.5 676.5L1086.0 678.2L1086.5 680.0L1087.0 681.8L1087.5 683.5L1088.0 685.0L1088.5 686.4L1089.0 687.8L1089.5 689.2L1090.0 690.6L1090.5 692.1L1091.0 693.5L1091.5 695.0L1092.0 696.6L1092.5 698.2L1093.0 699.9L1093.5 701.6L1094.0 703.1L1094.5 704.5L1095.0 705.7L1095.5 706.8L1096.0 707.8L1096.5 708.8L1097.0 709.6L1097.5 710.4L1098.0 711.0L1098.5 711.5L1099.0 712.1L1099.5 712.6L1100.0 713.0L1100.5 713.4L1101.0 713.7L1101.5 713.9L1102.0 714.0L1102.5 713.8L1103.0 713.4L1103.5 712.7L1104.0 711.8L1104.5 710.8L1105.0 709.6L1105.5 708.4L1106.0 707.2L1106.5 706.1L1107.0 705.0L1107.5 704.0L1108.0 702.9L1108.5 701.7L1109.0 700.6L1109.5 699.4L1110.0 698.2L1110.5 697.0L1111.0 695.7L1111.5 694.1L1112.0 692.4L1112.5 690.8L1113.0 689.3L1113.5 688.1L1114.0 687.3L1114.5 687.0L1115.0 687.0L1115.5 687.2L1116.0 687.4L1116.5 687.7L1117.0 688.0L1117.5 688.3L1118.0 688.7L1118.5 689.1L1119.0 689.5L1119.5 689.9L1120.0 690.5L1120.5 691.0L1121.0 691.7L1121.5 692.3L1122.0 693.0L1122.5 693.7L1123.0 694.4L1123.5 695.1L1124.0 695.8L1124.5 696.6L1125.0 697.4L1125.5 698.3L1126.0 699.1L1126.5 700.0L1127.0 700.9L1127.5 701.9L1128.0 703.0L1128.5 704.1L1129.0 705.2L1129.5 706.3L1130.0 707.4L1130.5 708.5L1131.0 709.6L1131.5 710.6L1132.0 711.7L1132.5 712.8L1133.0 713.8L1133.5 714.7L1134.0 715.4L1134.5 716.2L1135.0 716.9L1135.5 717.6L1136.0 718.3L1136.5 719.0L1137.0 719.5L1137.5 720.1L1138.0 720.5L1138.5 720.8L1139.0 721.0L1139.5 721.0L1140.0 721.0L1140.5 720.9L1141.0 720.8L1141.5 720.6L1142.0 720.4L1142.5 720.2L1143.0 720.0L1143.5 719.7L1144.0 719.5L1144.5 719.2L1145.0 718.9L1145.5 718.5L1146.0 718.1L1146.5 717.6L1147.0 717.1L1147.5 716.5L1148.0 715.8L1148.5 715.0L1149.0 713.9L1149.5 712.3L1150.0 710.6L1150.5 709.1L1151.0 707.6L1151.5 706.1L1152.0 704.7L1152.5 703.1L1153.0 701.6L1153.5 700.0L1154.0 698.4L1154.5 696.7L1155.0 695.0L1155.5 693.3L1156.0 691.5L1156.5 689.6L1157.0 687.6L1157.5 685.4L1158.0 683.2L1158.5 681.1L1159.0 679.3L1159.5 677.7L1160.0 676.2L1160.5 674.7L1161.0 673.3L1161.5 672.0L1162.0 670.6L1162.5 669.1L1163.0 667.5L1163.5 665.8L1164.0 664.5L1164.5 663.5L1165.0 662.8L1165.5 662.2L1166.0 661.6L1166.5 661.0L1167.0 660.5L1167.5 660.0L1168.0 659.6L1168.5 659.2L1169.0 658.9L1169.5 658.6L1170.0 658.5L1170.5 658.3L1171.0 658.3L1171.5 658.3L1172.0 658.4L1172.5 658.5L1173.0 658.6L1173.5 658.8L1174.0 659.1L1174.5 659.3L1175.0 659.6L1175.5 659.9L1176.0 660.3L1176.5 660.7L1177.0 661.1L1177.5 661.5L1178.0 662.0L1178.5 662.5L1179.0 663.0L1179.5 663.7L1180.0 664.7L1180.5 666.0L1181.0 667.3L1181.5 668.7L1182.0 670.0L1182.5 671.2L1183.0 672.5L1183.5 673.7L1184.0 675.0L1184.5 676.3L1185.0 677.5L1185.5 678.8L1186.0 680.0L1186.5 681.3L1187.0 682.6L1187.5 683.9L1188.0 685.1L1188.5 686.0L1189.0 686.8L1189.5 687.5L1190.0 688.1L1190.5 688.7L1191.0 689.2L1191.5 689.6L1192.0 690.0L1192.5 690.4L1193.0 690.7L1193.5 691.0L1194.0 691.4L1194.5 691.6L1195.0 691.8L1195.5 692.0L1196.0 692.0L1196.5 691.7L1197.0 690.9L1197.5 689.6L1198.0 688.1L1198.5 686.4L1199.0 684.6L1199.5 682.9L1200.0 681.3L1200.5 680.0L1201.0 678.9L1201.5 677.9L1202.0 677.0L1202.5 676.0L1203.0 675.0L1203.5 673.8L1204.0 672.5L1204.5 671.0L1205.0 669.5L1205.5 668.0L1206.0 666.5L1206.5 665.2L1207.0 664.0L1207.5 663.1L1208.0 662.5L1208.5 662.2L1209.0 662.2L1209.5 662.3L1210.0 662.5L1210.5 662.8L1211.0 663.1L1211.5 663.4L1212.0 663.9L1212.5 664.3L1213.0 664.9L1213.5 665.4L1214.0 666.0L1214.5 666.7L1215.0 667.3L1215.5 668.0L1216.0 668.9L1216.5 670.1L1217.0 671.7L1217.5 673.3L1218.0 675.1L1218.5 676.9L1219.0 678.5L1219.5 680.0L1220.0 681.4L1220.5 682.7L1221.0 684.0L1221.5 685.0L1222.0 685.9L1222.5 686.8L1223.0 687.7L1223.5 688.6L1224.0 689.5L1224.5 690.3L1225.0 691.0L1225.5 691.6L1226.0 692.1L1226.5 692.5L1227.0 692.7L1227.5 692.8L1228.0 692.7L1228.5 692.5L1229.0 692.1L1229.5 691.6L1230.0 691.0L1230.5 690.3L1231.0 689.6L1231.5 688.8L1232.0 688.0L1232.5 687.1L1233.0 685.9L1233.5 684.6L1234.0 683.2L1234.5 681.6L1235.0 680.0L1235.5 678.2L1236.0 676.2L1236.5 674.1L1237.0 672.0L1237.5 670.0L1238.0 668.1L1238.5 666.2L1239.0 664.4L1239.5 662.5L1240.0 660.7L1240.5 658.9L1241.0 657.0L1241.5 655.1L1242.0 653.3L1242.5 651.6L1243.0 650.0L1243.5 648.4L1244.0 646.8L1244.5 645.4L1245.0 644.2L1245.5 643.5L1246.0 643.1L1246.5 642.7L1247.0 642.3L1247.5 641.9L1248.0 641.6L1248.5 641.3L1249.0 641.1L1249.5 640.8L1250.0 640.6L1250.5 640.5L1251.0 640.4L1251.5 640.3L1252.0 640.2L1252.5 640.2L1253.0 640.3L1253.5 640.7L1254.0 641.3L1254.5 642.0L1255.0 642.9L1255.5 644.0L1256.0 645.1L1256.5 646.3L1257.0 647.5L1257.5 648.8L1258.0 650.0L1258.5 651.3L1259.0 652.8L1259.5 654.5L1260.0 656.2L1260.5 658.1L1261.0 660.1L1261.5 662.1L1262.0 664.1L1262.5 666.1L1263.0 668.0L1263.5 669.9L1264.0 671.9L1264.5 673.9L1265.0 675.9" fill="none" stroke="#000" stroke-width="6.9" stroke-linejoin="round" stroke-linecap="round" clip-path="url(#cld)"/>
<path d="M863.75 785.50L865.82 791.86L872.50 791.86L867.09 795.79L869.16 802.14L863.75 798.21L858.34 802.14L860.41 795.79L855.00 791.86L861.68 791.86Z" fill="#ff0000" stroke="#ff0000" stroke-width="4.5" stroke-linejoin="bevel" clip-path="url(#cld)"/>
<path d="M907.40 781.30L909.47 787.66L916.15 787.66L910.74 791.59L912.81 797.94L907.40 794.01L901.99 797.94L904.06 791.59L898.65 787.66L905.33 787.66Z" fill="#ff0000" stroke="#ff0000" stroke-width="4.5" stroke-linejoin="bevel" clip-path="url(#cld)"/>
<path d="M938.90 762.90L940.97 769.26L947.65 769.26L942.24 773.19L944.31 779.54L938.90 775.61L933.49 779.54L935.56 773.19L930.15 769.26L936.83 769.26Z" fill="#ff0000" stroke="#ff0000" stroke-width="4.5" stroke-linejoin="bevel" clip-path="url(#cld)"/>
<path d="M988.80 736.70L990.87 743.06L997.55 743.06L992.14 746.99L994.21 753.34L988.80 749.41L983.39 753.34L985.46 746.99L980.05 743.06L986.73 743.06Z" fill="#ff0000" stroke="#ff0000" stroke-width="4.5" stroke-linejoin="bevel" clip-path="url(#cld)"/>
<path d="M1032.80 689.00L1034.87 695.36L1041.55 695.36L1036.14 699.29L1038.21 705.64L1032.80 701.71L1027.39 705.64L1029.46 699.29L1024.05 695.36L1030.73 695.36Z" fill="#ff0000" stroke="#ff0000" stroke-width="4.5" stroke-linejoin="bevel" clip-path="url(#cld)"/>
<path d="M1083.20 663.50L1085.27 669.86L1091.95 669.86L1086.54 673.79L1088.61 680.14L1083.20 676.21L1077.79 680.14L1079.86 673.79L1074.45 669.86L1081.13 669.86Z" fill="#ff0000" stroke="#ff0000" stroke-width="4.5" stroke-linejoin="bevel" clip-path="url(#cld)"/>
<path d="M1114.50 678.30L1116.57 684.66L1123.25 684.66L1117.84 688.59L1119.91 694.94L1114.50 691.01L1109.09 694.94L1111.16 688.59L1105.75 684.66L1112.43 684.66Z" fill="#ff0000" stroke="#ff0000" stroke-width="4.5" stroke-linejoin="bevel" clip-path="url(#cld)"/>
<path d="M1171.00 649.80L1173.07 656.16L1179.75 656.16L1174.34 660.09L1176.41 666.44L1171.00 662.51L1165.59 666.44L1167.66 660.09L1162.25 656.16L1168.93 656.16Z" fill="#ff0000" stroke="#ff0000" stroke-width="4.5" stroke-linejoin="bevel" clip-path="url(#cld)"/>
<path d="M1208.60 653.60L1210.67 659.96L1217.35 659.96L1211.94 663.89L1214.01 670.24L1208.60 666.31L1203.19 670.24L1205.26 663.89L1199.85 659.96L1206.53 659.96Z" fill="#ff0000" stroke="#ff0000" stroke-width="4.5" stroke-linejoin="bevel" clip-path="url(#cld)"/>
<path d="M1252.50 631.70L1254.57 638.06L1261.25 638.06L1255.84 641.99L1257.91 648.34L1252.50 644.41L1247.09 648.34L1249.16 641.99L1243.75 638.06L1250.43 638.06Z" fill="#ff0000" stroke="#ff0000" stroke-width="4.5" stroke-linejoin="bevel" clip-path="url(#cld)"/>
<path d="M825.60 814.00L827.67 820.36L834.35 820.36L828.94 824.29L831.01 830.64L825.60 826.71L820.19 830.64L822.26 824.29L816.85 820.36L823.53 820.36Z" fill="#008000" stroke="#008000" stroke-width="4.5" stroke-linejoin="bevel" clip-path="url(#cld)"/>
<path d="M882.30 817.60L884.37 823.96L891.05 823.96L885.64 827.89L887.71 834.24L882.30 830.31L876.89 834.24L878.96 827.89L873.55 823.96L880.23 823.96Z" fill="#008000" stroke="#008000" stroke-width="4.5" stroke-linejoin="bevel" clip-path="url(#cld)"/>
<path d="M920.30 789.20L922.37 795.56L929.05 795.56L923.64 799.49L925.71 805.84L920.30 801.91L914.89 805.84L916.96 799.49L911.55 795.56L918.23 795.56Z" fill="#008000" stroke="#008000" stroke-width="4.5" stroke-linejoin="bevel" clip-path="url(#cld)"/>
<path d="M964.00 796.40L966.07 802.76L972.75 802.76L967.34 806.69L969.41 813.04L964.00 809.11L958.59 813.04L960.66 806.69L955.25 802.76L961.93 802.76Z" fill="#008000" stroke="#008000" stroke-width="4.5" stroke-linejoin="bevel" clip-path="url(#cld)"/>
<path d="M1008.10 747.30L1010.17 753.66L1016.85 753.66L1011.44 757.59L1013.51 763.94L1008.10 760.01L1002.69 763.94L1004.76 757.59L999.35 753.66L1006.03 753.66Z" fill="#008000" stroke="#008000" stroke-width="4.5" stroke-linejoin="bevel" clip-path="url(#cld)"/>
<path d="M1058.20 716.10L1060.27 722.46L1066.95 722.46L1061.54 726.39L1063.61 732.74L1058.20 728.81L1052.79 732.74L1054.86 726.39L1049.45 722.46L1056.13 722.46Z" fill="#008000" stroke="#008000" stroke-width="4.5" stroke-linejoin="bevel" clip-path="url(#cld)"/>
<path d="M1102.00 704.80L1104.07 711.16L1110.75 711.16L1105.34 715.09L1107.41 721.44L1102.00 717.51L1096.59 721.44L1098.66 715.09L1093.25 711.16L1099.93 711.16Z" fill="#008000" stroke="#008000" stroke-width="4.5" stroke-linejoin="bevel" clip-path="url(#cld)"/>
<path d="M1139.40 711.90L1141.47 718.26L1148.15 718.26L1142.74 722.19L1144.81 728.54L1139.40 724.61L1133.99 728.54L1136.06 722.19L1130.65 718.26L1137.33 718.26Z" fill="#008000" stroke="#008000" stroke-width="4.5" stroke-linejoin="bevel" clip-path="url(#cld)"/>
<path d="M1196.00 682.80L1198.07 689.16L1204.75 689.16L1199.34 693.09L1201.41 699.44L1196.00 695.51L1190.59 699.44L1192.66 693.09L1187.25 689.16L1193.93 689.16Z" fill="#008000" stroke="#008000" stroke-width="4.5" stroke-linejoin="bevel" clip-path="url(#cld)"/>
<path d="M1227.50 683.70L1229.57 690.06L1236.25 690.06L1230.84 693.99L1232.91 700.34L1227.50 696.41L1222.09 700.34L1224.16 693.99L1218.75 690.06L1225.43 690.06Z" fill="#008000" stroke="#008000" stroke-width="4.5" stroke-linejoin="bevel" clip-path="url(#cld)"/>
<rect x="154.50" y="60.00" width="432.50" height="328.30" fill="none" stroke="#000" stroke-width="3.6"/>
<path d="M176.12 388.30v7.8M197.75 388.30v7.8M219.38 388.30v7.8M241.00 388.30v7.8M284.25 388.30v7.8M305.88 388.30v7.8M327.50 388.30v7.8M349.12 388.30v7.8M392.38 388.30v7.8M414.00 388.30v7.8M435.62 388.30v7.8M457.25 388.30v7.8M500.50 388.30v7.8M522.12 388.30v7.8M543.75 388.30v7.8M565.38 388.30v7.8M154.50 360.94h-7.8M154.50 333.58h-7.8M154.50 306.23h-7.8M154.50 251.51h-7.8M154.50 224.15h-7.8M154.50 196.79h-7.8M154.50 142.07h-7.8M154.50 114.72h-7.8M154.50 87.36h-7.8M587.00 371.18h7.8M587.00 354.06h7.8M587.00 336.94h7.8M587.00 319.81h7.8M587.00 285.57h7.8M587.00 268.45h7.8M587.00 251.33h7.8M587.00 234.21h7.8M587.00 199.97h7.8M587.00 182.84h7.8M587.00 165.72h7.8M587.00 148.60h7.8M587.00 114.36h7.8M587.00 97.24h7.8M587.00 80.12h7.8M587.00 63.00h7.8" stroke="#000" stroke-width="2.2" fill="none"/>
<path d="M154.50 386.50v15.4M262.62 386.50v15.4M370.75 386.50v15.4M478.88 386.50v15.4M587.00 386.50v15.4M156.30 388.30h-15.4M156.30 278.87h-15.4M156.30 169.43h-15.4M156.30 60.00h-15.4M585.20 388.30h15.4M585.20 302.69h15.4M585.20 217.09h15.4M585.20 131.48h15.4" stroke="#000" stroke-width="4.0" fill="none"/>
<rect x="830.20" y="60.00" width="432.80" height="328.30" fill="none" stroke="#000" stroke-width="3.6"/>
<path d="M851.84 388.30v7.8M873.48 388.30v7.8M895.12 388.30v7.8M916.76 388.30v7.8M960.04 388.30v7.8M981.68 388.30v7.8M1003.32 388.30v7.8M1024.96 388.30v7.8M1068.24 388.30v7.8M1089.88 388.30v7.8M1111.52 388.30v7.8M1133.16 388.30v7.8M1176.44 388.30v7.8M1198.08 388.30v7.8M1219.72 388.30v7.8M1241.36 388.30v7.8M830.20 360.94h-7.8M830.20 333.58h-7.8M830.20 306.23h-7.8M830.20 278.87h-7.8M830.20 224.15h-7.8M830.20 196.79h-7.8M830.20 169.43h-7.8M830.20 142.07h-7.8M830.20 87.36h-7.8M830.20 60.00h-7.8M1263.00 366.84h7.8M1263.00 345.38h7.8M1263.00 323.93h7.8M1263.00 281.01h7.8M1263.00 259.55h7.8M1263.00 238.10h7.8M1263.00 195.18h7.8M1263.00 173.72h7.8M1263.00 152.27h7.8M1263.00 109.35h7.8M1263.00 87.89h7.8M1263.00 66.44h7.8" stroke="#000" stroke-width="2.2" fill="none"/>
<path d="M830.20 386.50v15.4M938.40 386.50v15.4M1046.60 386.50v15.4M1154.80 386.50v15.4M1263.00 386.50v15.4M832.00 388.30h-15.4M832.00 251.51h-15.4M832.00 114.72h-15.4M1261.20 388.30h15.4M1261.20 302.47h15.4M1261.20 216.64h15.4M1261.20 130.81h15.4" stroke="#000" stroke-width="4.0" fill="none"/>
<rect x="154.50" y="551.30" width="432.50" height="328.20" fill="none" stroke="#000" stroke-width="3.6"/>
<path d="M197.75 879.50v7.8M241.00 879.50v7.8M284.25 879.50v7.8M327.50 879.50v7.8M414.00 879.50v7.8M457.25 879.50v7.8M500.50 879.50v7.8M543.75 879.50v7.8M154.50 846.68h-7.8M154.50 813.86h-7.8M154.50 781.04h-7.8M154.50 748.22h-7.8M154.50 682.58h-7.8M154.50 649.76h-7.8M154.50 616.94h-7.8M154.50 584.12h-7.8M587.00 877.03h7.8M587.00 856.45h7.8M587.00 835.88h7.8M587.00 794.72h7.8M587.00 774.15h7.8M587.00 753.57h7.8M587.00 732.99h7.8M587.00 691.84h7.8M587.00 671.26h7.8M587.00 650.69h7.8M587.00 630.11h7.8M587.00 588.96h7.8M587.00 568.38h7.8" stroke="#000" stroke-width="2.2" fill="none"/>
<path d="M154.50 877.70v15.4M370.75 877.70v15.4M587.00 877.70v15.4M156.30 879.50h-15.4M156.30 715.40h-15.4M156.30 551.30h-15.4M585.20 815.30h15.4M585.20 712.42h15.4M585.20 609.53h15.4" stroke="#000" stroke-width="4.0" fill="none"/>
<rect x="830.20" y="551.30" width="432.80" height="328.20" fill="none" stroke="#000" stroke-width="3.6"/>
<path d="M873.48 879.50v7.8M916.76 879.50v7.8M960.04 879.50v7.8M1003.32 879.50v7.8M1089.88 879.50v7.8M1133.16 879.50v7.8M1176.44 879.50v7.8M1219.72 879.50v7.8M830.20 852.15h-7.8M830.20 824.80h-7.8M830.20 797.45h-7.8M830.20 742.75h-7.8M830.20 715.40h-7.8M830.20 688.05h-7.8M830.20 633.35h-7.8M830.20 606.00h-7.8M830.20 578.65h-7.8M1263.00 870.76h7.8M1263.00 853.62h7.8M1263.00 836.48h7.8M1263.00 819.34h7.8M1263.00 785.07h7.8M1263.00 767.93h7.8M1263.00 750.79h7.8M1263.00 733.65h7.8M1263.00 699.38h7.8M1263.00 682.24h7.8M1263.00 665.10h7.8M1263.00 647.96h7.8M1263.00 613.68h7.8M1263.00 596.55h7.8M1263.00 579.41h7.8M1263.00 562.27h7.8" stroke="#000" stroke-width="2.2" fill="none"/>
<path d="M830.20 877.70v15.4M1046.60 877.70v15.4M1263.00 877.70v15.4M832.00 879.50h-15.4M832.00 770.10h-15.4M832.00 660.70h-15.4M832.00 551.30h-15.4M1261.20 802.21h15.4M1261.20 716.51h15.4M1261.20 630.82h15.4" stroke="#000" stroke-width="4.0" fill="none"/>
<text transform="translate(110.69 68.50) scale(0.975 1)" font-size="34.2">6</text>
<text transform="translate(110.60 174.50) scale(0.975 1)" font-size="34.2">4</text>
<text transform="translate(110.85 284.00) scale(0.975 1)" font-size="34.2">2</text>
<text transform="translate(111.06 439.00) scale(0.975 1)" font-size="34.2">0</text>
<text transform="translate(255.95 439.00) scale(0.975 1)" font-size="34.2">5</text>
<text transform="translate(356.50 439.00) scale(0.975 1)" font-size="34.2">10</text>
<text transform="translate(464.01 439.00) scale(0.975 1)" font-size="34.2">15</text>
<text transform="translate(571.88 439.00) scale(0.975 1)" font-size="34.2">20</text>
<text transform="translate(613.85 140.00) scale(0.975 1)" font-size="34.2">1.5</text>
<text transform="translate(614.63 225.80) scale(0.975 1)" font-size="34.2">1.0</text>
<text transform="translate(613.18 312.20) scale(0.975 1)" font-size="34.2">0.5</text>
<text transform="translate(613.96 396.00) scale(0.975 1)" font-size="34.2">0</text>
<text transform="translate(784.85 122.20) scale(0.975 1)" font-size="34.2">2</text>
<text transform="translate(784.60 256.80) scale(0.975 1)" font-size="34.2">1</text>
<text transform="translate(785.16 439.00) scale(0.975 1)" font-size="34.2">0</text>
<text transform="translate(929.95 439.00) scale(0.975 1)" font-size="34.2">5</text>
<text transform="translate(1030.50 439.00) scale(0.975 1)" font-size="34.2">10</text>
<text transform="translate(1138.16 439.00) scale(0.975 1)" font-size="34.2">15</text>
<text transform="translate(1246.23 439.00) scale(0.975 1)" font-size="34.2">20</text>
<text transform="translate(1289.54 137.50) scale(0.975 1)" font-size="34.2">6</text>
<text transform="translate(1289.20 227.00) scale(0.975 1)" font-size="34.2">4</text>
<text transform="translate(1289.60 310.50) scale(0.975 1)" font-size="34.2">2</text>
<text transform="translate(1289.66 399.50) scale(0.975 1)" font-size="34.2">0</text>
<text transform="translate(85.10 561.20) scale(0.975 1)" font-size="34.2">3.0</text>
<text transform="translate(84.23 722.00) scale(0.975 1)" font-size="34.2">2.5</text>
<text transform="translate(84.96 889.50) scale(0.975 1)" font-size="34.2">2.0</text>
<text transform="translate(127.74 929.50) scale(0.975 1)" font-size="34.2">10.0</text>
<text transform="translate(343.01 929.50) scale(0.975 1)" font-size="34.2">10.5</text>
<text transform="translate(558.74 929.50) scale(0.975 1)" font-size="34.2">11.0</text>
<text transform="translate(613.81 621.80) scale(0.975 1)" font-size="34.2">9</text>
<text transform="translate(613.66 721.20) scale(0.975 1)" font-size="34.2">8</text>
<text transform="translate(612.95 822.20) scale(0.975 1)" font-size="34.2">7</text>
<text transform="translate(754.10 555.20) scale(0.975 1)" font-size="34.2">1.4</text>
<text transform="translate(754.51 666.00) scale(0.975 1)" font-size="34.2">1.2</text>
<text transform="translate(754.63 776.50) scale(0.975 1)" font-size="34.2">1.0</text>
<text transform="translate(753.56 887.20) scale(0.975 1)" font-size="34.2">0.8</text>
<text transform="translate(802.49 929.50) scale(0.975 1)" font-size="34.2">10.0</text>
<text transform="translate(1016.26 929.50) scale(0.975 1)" font-size="34.2">10.5</text>
<text transform="translate(1235.99 929.50) scale(0.975 1)" font-size="34.2">11.0</text>
<text transform="translate(1285.12 640.20) scale(0.975 1)" font-size="34.2">4.0</text>
<text transform="translate(1284.36 728.20) scale(0.975 1)" font-size="34.2">3.5</text>
<text transform="translate(1285.10 813.50) scale(0.975 1)" font-size="34.2">3.0</text>
<text x="8.20" y="39.00" font-size="40.5">(</text>
<text x="21.50" y="39.00" font-size="40.5" font-style="italic">a</text>
<text x="41.70" y="39.00" font-size="40.5">)</text>
<text x="685.20" y="39.40" font-size="40.5">(</text>
<text x="698.20" y="39.40" font-size="40.5" font-style="italic">b</text>
<text x="718.00" y="39.40" font-size="40.5">)</text>
<text x="8.20" y="530.30" font-size="40.5">(</text>
<text x="21.50" y="530.30" font-size="40.5" font-style="italic">c</text>
<text x="41.70" y="530.30" font-size="40.5">)</text>
<text x="682.40" y="530.60" font-size="40.5">(</text>
<text x="695.40" y="530.60" font-size="40.5" font-style="italic">d</text>
<text x="721.10" y="530.60" font-size="40.5">)</text>
<text transform="translate(154.20 39.20) scale(0.975 1)" font-size="33.8">(×10<tspan font-size="26" dy="-11.5">–10</tspan><tspan dy="11.5">)</tspan></text>
<text transform="translate(483.70 39.20) scale(0.975 1)" font-size="33.8">(×10<tspan font-size="26" dy="-11.5">–7</tspan><tspan dy="11.5">)</tspan></text>
<text transform="translate(829.50 39.20) scale(0.975 1)" font-size="33.8">(×10<tspan font-size="26" dy="-11.5">–11</tspan><tspan dy="11.5">)</tspan></text>
<text transform="translate(1163.30 39.20) scale(0.975 1)" font-size="33.8">(×10<tspan font-size="26" dy="-11.5">–9</tspan><tspan dy="11.5">)</tspan></text>
<text transform="translate(154.20 530.50) scale(0.975 1)" font-size="33.8">(×10<tspan font-size="26" dy="-11.5">–10</tspan><tspan dy="11.5">)</tspan></text>
<text transform="translate(483.70 530.50) scale(0.975 1)" font-size="33.8">(×10<tspan font-size="26" dy="-11.5">–8</tspan><tspan dy="11.5">)</tspan></text>
<text transform="translate(829.50 530.50) scale(0.975 1)" font-size="33.8">(×10<tspan font-size="26" dy="-11.5">–11</tspan><tspan dy="11.5">)</tspan></text>
<text transform="translate(1163.30 530.50) scale(0.975 1)" font-size="33.8">(×10<tspan font-size="26" dy="-11.5">–9</tspan><tspan dy="11.5">)</tspan></text>
<g transform="translate(71.00 224.10) rotate(-90)">
<text x="-107.95" y="-1.00" font-size="37.6" stroke="#000" stroke-width="0.7">|</text>
<text x="-98.90" y="-1.00" font-size="36.5" font-style="italic">η</text>
<text x="-98.30" y="-0.60" font-size="39.5" font-style="italic">ˆ</text>
<text x="-79.40" y="0.00" font-size="40.5">(</text>
<text x="-65.50" y="0.00" font-size="40.5" font-style="italic">k</text>
<text x="-49.00" y="13.00" font-size="30.3" font-style="italic">x</text>
<text x="-35.10" y="0.00" font-size="40.5">,</text>
<text x="-15.10" y="0.00" font-size="40.5" font-style="italic">k</text>
<text x="2.10" y="13.00" font-size="30.3" font-style="italic">y</text>
<text x="14.50" y="0.00" font-size="40.5">)</text>
<text x="28.65" y="-1.00" font-size="37.6" stroke="#000" stroke-width="0.7">|</text>
<text x="36.00" y="-13.50" font-size="30.3">2</text>
<text x="51.20" y="0.00" font-size="40.5">/</text>
<text x="61.90" y="0.00" font-size="40.5" font-style="italic">H</text>
<text x="92.80" y="-13.50" font-size="30.3">2</text>
</g>
<g transform="translate(48.50 715.40) rotate(-90)">
<text x="-107.95" y="-1.00" font-size="37.6" stroke="#000" stroke-width="0.7">|</text>
<text x="-98.90" y="-1.00" font-size="36.5" font-style="italic">η</text>
<text x="-98.30" y="-0.60" font-size="39.5" font-style="italic">ˆ</text>
<text x="-79.40" y="0.00" font-size="40.5">(</text>
<text x="-65.50" y="0.00" font-size="40.5" font-style="italic">k</text>
<text x="-49.00" y="13.00" font-size="30.3" font-style="italic">x</text>
<text x="-35.10" y="0.00" font-size="40.5">,</text>
<text x="-15.10" y="0.00" font-size="40.5" font-style="italic">k</text>
<text x="2.10" y="13.00" font-size="30.3" font-style="italic">y</text>
<text x="14.50" y="0.00" font-size="40.5">)</text>
<text x="28.65" y="-1.00" font-size="37.6" stroke="#000" stroke-width="0.7">|</text>
<text x="36.00" y="-13.50" font-size="30.3">2</text>
<text x="51.20" y="0.00" font-size="40.5">/</text>
<text x="61.90" y="0.00" font-size="40.5" font-style="italic">H</text>
<text x="92.80" y="-13.50" font-size="30.3">2</text>
</g>
<g transform="translate(1366.70 224.10) rotate(-90)">
<text x="-100.75" y="-1.00" font-size="37.6" stroke="#000" stroke-width="0.7">|</text>
<text x="-91.70" y="-1.00" font-size="36.5" font-style="italic">η</text>
<text x="-91.10" y="-0.60" font-size="39.5" font-style="italic">ˆ</text>
<text x="-72.20" y="0.00" font-size="40.5">(</text>
<text x="-58.30" y="0.00" font-size="40.5" font-style="italic">k</text>
<text x="-41.80" y="13.00" font-size="30.3" font-style="italic">x</text>
<text x="-27.90" y="0.00" font-size="40.5">,</text>
<text x="-7.90" y="0.00" font-size="40.5" font-style="italic">k</text>
<text x="9.30" y="13.00" font-size="30.3" font-style="italic">y</text>
<text x="21.70" y="0.00" font-size="40.5">)</text>
<text x="35.85" y="-1.00" font-size="37.6" stroke="#000" stroke-width="0.7">|</text>
<text x="43.20" y="-13.50" font-size="30.3">2</text>
<text x="58.40" y="0.00" font-size="40.5">/</text>
<text x="69.60" y="0.00" font-size="40.5" font-style="italic">l</text>
<text x="85.00" y="-13.50" font-size="30.3">2</text>
<text x="80.60" y="13.00" font-size="30.3" font-style="italic">c</text>
</g>
<g transform="translate(1378.00 715.40) rotate(-90)">
<text x="-100.75" y="-1.00" font-size="37.6" stroke="#000" stroke-width="0.7">|</text>
<text x="-91.70" y="-1.00" font-size="36.5" font-style="italic">η</text>
<text x="-91.10" y="-0.60" font-size="39.5" font-style="italic">ˆ</text>
<text x="-72.20" y="0.00" font-size="40.5">(</text>
<text x="-58.30" y="0.00" font-size="40.5" font-style="italic">k</text>
<text x="-41.80" y="13.00" font-size="30.3" font-style="italic">x</text>
<text x="-27.90" y="0.00" font-size="40.5">,</text>
<text x="-7.90" y="0.00" font-size="40.5" font-style="italic">k</text>
<text x="9.30" y="13.00" font-size="30.3" font-style="italic">y</text>
<text x="21.70" y="0.00" font-size="40.5">)</text>
<text x="35.85" y="-1.00" font-size="37.6" stroke="#000" stroke-width="0.7">|</text>
<text x="43.20" y="-13.50" font-size="30.3">2</text>
<text x="58.40" y="0.00" font-size="40.5">/</text>
<text x="69.60" y="0.00" font-size="40.5" font-style="italic">l</text>
<text x="85.00" y="-13.50" font-size="30.3">2</text>
<text x="80.60" y="13.00" font-size="30.3" font-style="italic">c</text>
</g>
<text x="320.60" y="985.00" font-size="40.5" font-style="italic">t</text>
<text x="331.80" y="985.00" font-size="40.5" font-style="italic">u</text>
<text x="354.10" y="971.30" font-size="30.3" font-style="italic">a</text>
<text x="354.00" y="997.80" font-size="30.3" font-style="italic">τ</text>
<text x="371.10" y="992.50" font-size="53">/</text>
<text x="388.10" y="985.00" font-size="40.5" font-style="italic">H</text>
<text x="995.30" y="985.00" font-size="40.5" font-style="italic">t</text>
<text x="1006.50" y="985.00" font-size="40.5" font-style="italic">u</text>
<text x="1028.80" y="971.30" font-size="30.3" font-style="italic">a</text>
<text x="1028.70" y="997.80" font-size="30.3" font-style="italic">τ</text>
<text x="1045.80" y="992.50" font-size="53">/</text>
<text x="1062.80" y="985.00" font-size="40.5" font-style="italic">H</text>
</svg>
</body>
</html>
